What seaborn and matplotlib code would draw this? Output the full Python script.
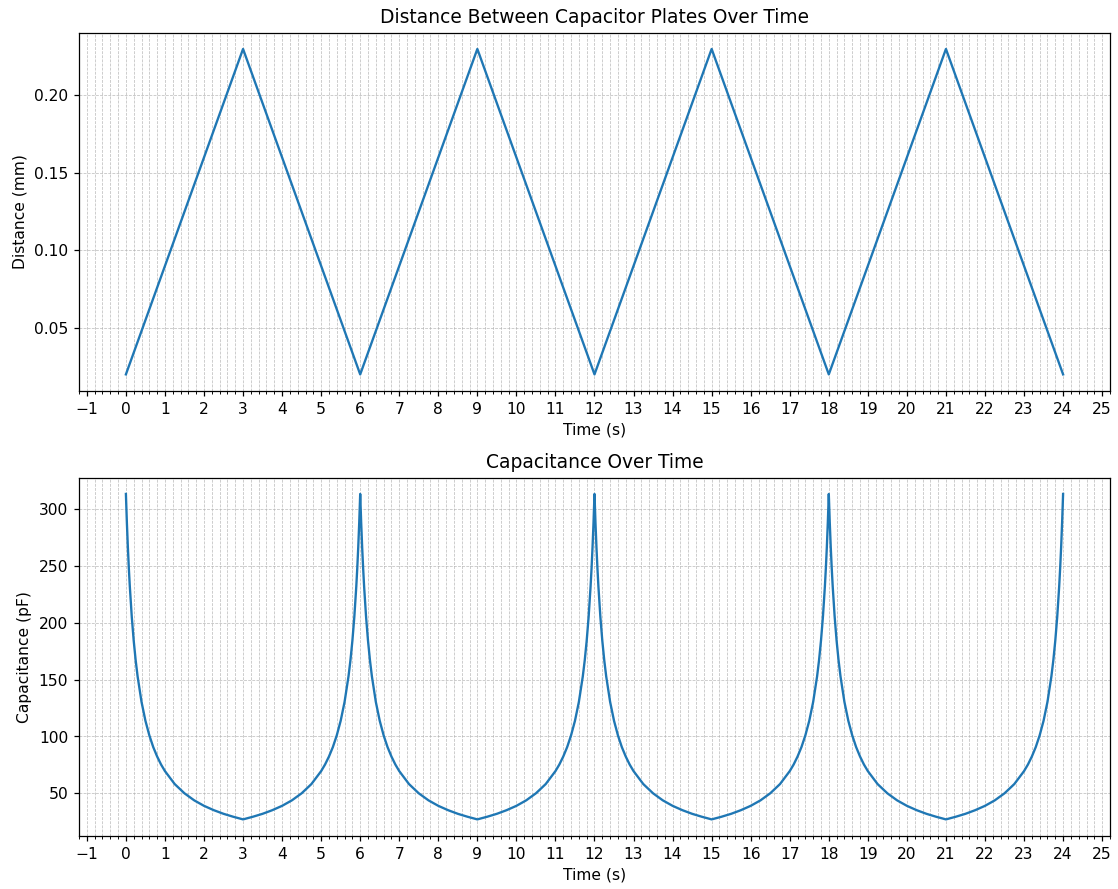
import numpy as np
import pandas as pd
import matplotlib
matplotlib.use('Agg')
import matplotlib.pyplot as plt
import seaborn as sns
from matplotlib.ticker import MultipleLocator

# Distancia entre placas: pontos de quebra (onda triangular)
tempo_quebra = [0, 3, 6, 9, 12, 15, 18, 21, 24]
distancia_mm = [0.02, 0.23, 0.02, 0.23, 0.02, 0.23, 0.02, 0.23, 0.02]

meio_ciclo_dt = [0.0, 0.025, 0.05, 0.075, 0.1, 0.15, 0.2, 0.25, 0.3, 0.4, 0.5, 0.6,
                 0.7, 0.8, 0.9, 1.0, 1.25, 1.5, 1.75, 2.0, 2.25, 2.5, 2.75, 3.0]
meio_ciclo_cap = [313.0, 287.8, 266.4, 247.9, 231.9, 205.2, 184.1, 166.9, 152.7, 130.4, 113.8, 101.0,
                  90.7, 82.4, 75.4, 69.6, 58.2, 50.1, 43.9, 39.1, 35.3, 32.1, 29.5, 27.2]
inicio_ciclos = [0, 6, 12, 18]
periodo = 6

# Monta a serie completa (descida + subida, repetida a cada ciclo)
t_cap, v_cap = [], []
for t0 in inicio_ciclos:
    for dt, c in zip(meio_ciclo_dt, meio_ciclo_cap):
        t_cap.append(t0 + dt)
        v_cap.append(c)
    for dt, c in zip(meio_ciclo_dt[::-1][1:], meio_ciclo_cap[::-1][1:]):
        t_cap.append(t0 + periodo - dt)
        v_cap.append(c)

df_dist = pd.DataFrame({'tempo': tempo_quebra, 'distancia': distancia_mm})
df_cap = pd.DataFrame({'tempo': t_cap, 'capacitancia': v_cap})

fig, axes = plt.subplots(2, 1, figsize=(10, 7.952), dpi=111.8)

sns.lineplot(data=df_dist, x='tempo', y='distancia', ax=axes[0], color='#1f77b4', linewidth=1.5)
axes[0].set_title('Distance Between Capacitor Plates Over Time')
axes[0].set_xlabel('Time (s)')
axes[0].set_ylabel('Distance (mm)')

sns.lineplot(data=df_cap, x='tempo', y='capacitancia', ax=axes[1], color='#1f77b4', linewidth=1.5)
axes[1].set_title('Capacitance Over Time')
axes[1].set_xlabel('Time (s)')
axes[1].set_ylabel('Capacitance (pF)')

for ax in axes:
    ax.xaxis.set_major_locator(MultipleLocator(1))
    ax.xaxis.set_minor_locator(MultipleLocator(0.2))
    ax.grid(True, which='both', linestyle='--', linewidth=0.5, color='#b0b0b0', alpha=0.8)

plt.subplots_adjust(left=0.0707, right=0.9928, top=0.9632, bottom=0.06, hspace=0.243)
plt.savefig('out.png', dpi=111.8)
